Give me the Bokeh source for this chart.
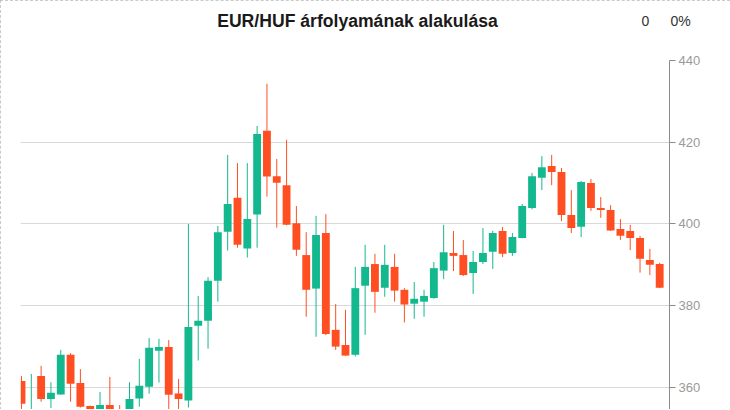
from bokeh.plotting import figure
from bokeh.models import Label, Range1d, FixedTicker, ColumnDataSource
from bokeh.embed import file_html
from bokeh.resources import INLINE

# ---- data ----
opens = [361.6, 350.0, 362.8, 357.2, 358.3, 368.0, 361.1, 355.5, 353.0, 355.7,
         353.0, 353.0, 357.3, 360.2, 369.0, 369.9, 358.5, 356.8, 375.1, 376.3,
         386.1, 398.1, 406.4, 394.0, 402.3, 422.8, 411.7, 409.5, 400.2, 392.4,
         384.2, 397.8, 374.1, 370.4, 368.0, 384.9, 390.2, 384.4, 389.5, 383.9,
         380.5, 381.0, 381.9, 388.6, 392.9, 392.4, 388.0, 390.7, 393.2, 398.3,
         392.9, 396.6, 403.9, 411.3, 414.2, 412.7, 402.2, 399.3, 410.0, 403.9,
         403.4, 398.8, 398.3, 396.6, 391.2, 390.2]
highs = [362.8, 363.3, 365.3, 361.3, 369.2, 368.4, 364.5, 355.6, 358.9, 362.6,
         355.7, 361.3, 367.0, 372.1, 371.9, 371.6, 362.1, 400.0, 382.4, 387.0,
         399.5, 416.9, 414.9, 414.9, 424.0, 434.3, 415.9, 420.6, 404.4, 398.0,
         402.0, 402.4, 380.4, 379.0, 389.5, 394.9, 392.7, 394.9, 392.7, 384.3,
         385.8, 383.9, 390.7, 399.8, 398.3, 396.1, 393.4, 399.0, 398.3, 399.3,
         397.8, 404.9, 412.5, 416.6, 416.9, 413.7, 408.3, 410.5, 411.0, 406.6,
         404.6, 401.2, 399.8, 397.1, 393.9, 390.5]
lows = [352.5, 349.0, 356.5, 355.0, 358.2, 356.5, 355.1, 351.0, 351.0, 350.0,
        349.0, 351.0, 355.3, 358.5, 361.2, 354.7, 354.7, 355.1, 366.6, 369.5,
        381.0, 393.5, 394.2, 391.8, 394.2, 406.7, 399.1, 399.7, 392.2, 377.3,
        372.4, 372.8, 369.2, 367.8, 367.6, 372.9, 378.3, 382.2, 381.0, 375.9,
        376.8, 377.3, 381.7, 386.5, 388.5, 387.3, 382.9, 390.2, 389.0, 391.9,
        392.2, 396.5, 403.6, 408.3, 409.5, 400.7, 397.8, 396.8, 403.2, 401.5,
        398.3, 396.1, 393.6, 388.1, 387.5, 384.3]
closes = [356.0, 353.5, 357.2, 358.7, 368.0, 360.9, 355.3, 352.0, 355.7, 352.0,
          351.0, 357.2, 360.4, 369.7, 369.9, 358.2, 357.2, 374.8, 376.3, 386.1,
          398.0, 404.9, 394.9, 401.2, 422.0, 411.6, 410.1, 399.8, 393.7, 383.9,
          397.3, 373.1, 370.0, 367.8, 384.3, 389.5, 383.4, 390.0, 383.7, 380.3,
          381.7, 382.4, 389.2, 393.1, 392.2, 387.5, 390.7, 392.9, 397.8, 392.7,
          396.8, 404.4, 411.7, 413.9, 412.7, 402.2, 399.0, 410.3, 403.9, 403.4,
          398.4, 397.1, 396.6, 391.5, 390.0, 384.4]
y_ticks = [360, 380, 400, 420, 440]
title_text = "EUR/HUF árfolyamának alakulása"
change_value = "0"
change_pct = "0%"

UP = "#14b88f"
DOWN = "#ff4f22"

idx = list(range(len(opens)))
colors = [UP if c >= o else DOWN for o, c in zip(opens, closes)]
tops = [max(o, c) for o, c in zip(opens, closes)]
bottoms = [min(o, c) for o, c in zip(opens, closes)]
src = ColumnDataSource(dict(x=idx, o=opens, h=highs, l=lows, c=closes,
                            color=colors, top=tops, bottom=bottoms))

p = figure(width=730, height=410, output_backend="svg", toolbar_location=None,
           x_range=Range1d(-0.1, 66.0), y_range=Range1d(354.37, 440),
           x_axis_location=None, y_axis_location="right",
           min_border_left=20, min_border_right=61, min_border_top=60,
           min_border_bottom=0,
           styles={"outline": "1px dashed #b8b8b8", "outline-offset": "-1px",
                   "clip-path": "inset(0px 0px 1px 0px)"})
p.outline_line_color = None
p.background_fill_color = "white"
p.border_fill_color = "white"
p.xgrid.visible = False
p.ygrid.grid_line_color = "#d9d9d9"
p.ygrid.grid_line_width = 1

ax = p.yaxis[0]
ax.ticker = FixedTicker(ticks=y_ticks)
ax.axis_line_color = "#8c8c8c"
ax.major_tick_line_color = "#8c8c8c"
ax.major_tick_out = 6
ax.major_tick_in = 0
ax.minor_tick_line_color = None
ax.major_label_text_color = "#9a9a9a"
ax.major_label_text_font = "Liberation Sans"
ax.major_label_text_font_size = "13px"
ax.major_label_standoff = 3

p.segment(x0="x", y0="h", x1="x", y1="l", line_color="color", line_width=1, source=src)
p.vbar(x="x", width=0.8, top="top", bottom="bottom", fill_color="color",
       line_color=None, source=src)

p.add_layout(Label(x=357, y=20, x_units="canvas", y_units="canvas", text=title_text,
                   text_align="center", text_baseline="middle",
                   text_font="Liberation Sans", text_font_style="bold",
                   text_font_size="17.6px", text_color="#1a1a1a"), "above")
p.add_layout(Label(x=645, y=20, x_units="canvas", y_units="canvas", text=change_value,
                   text_align="center", text_baseline="middle",
                   text_font="Liberation Sans",
                   text_font_size="14px", text_color="#333333"), "above")
p.add_layout(Label(x=680, y=20, x_units="canvas", y_units="canvas", text=change_pct,
                   text_align="center", text_baseline="middle",
                   text_font="Liberation Sans",
                   text_font_size="14px", text_color="#333333"), "above")

open("out.html", "w").write(file_html(p, INLINE))
